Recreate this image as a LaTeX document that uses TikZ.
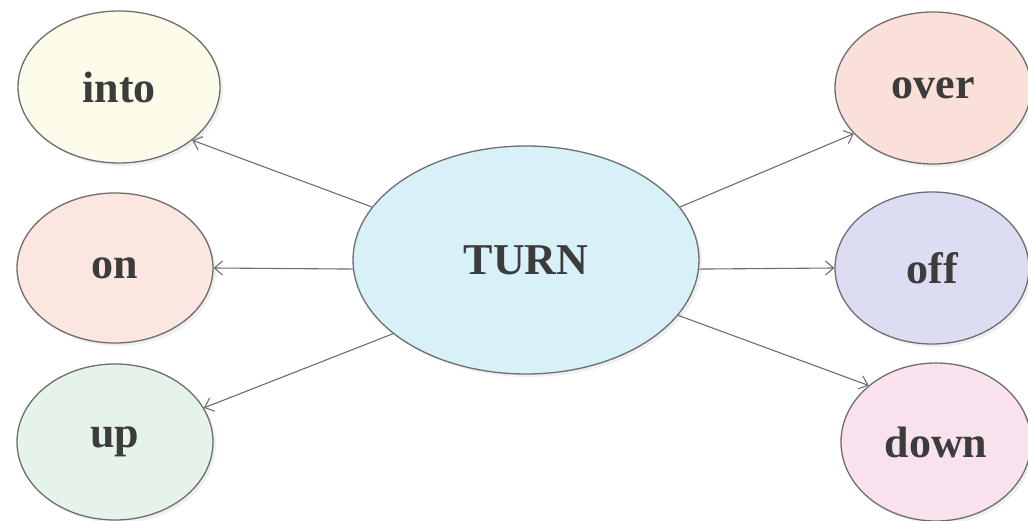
\documentclass[tikz,border=0pt]{standalone}
\usepackage{fontspec}
\setmainfont{Liberation Serif}
\usetikzlibrary{shapes.geometric,arrows.meta,shadows}
\definecolor{cinto}{HTML}{FDFBEA}
\definecolor{con}{HTML}{FCE6E0}
\definecolor{cup}{HTML}{E6F3E8}
\definecolor{cturn}{HTML}{D8F0F8}
\definecolor{cover}{HTML}{FBE0DA}
\definecolor{coff}{HTML}{DCDDF2}
\definecolor{cdown}{HTML}{F9E1EE}
\definecolor{edgec}{HTML}{6E6E6E}
\definecolor{txtc}{HTML}{3C3C3C}
\tikzset{
  bubble/.style={ellipse, draw=edgec, line width=1.3pt, inner sep=0pt,
    text=txtc, font=\fontsize{44}{48}\selectfont\bfseries,
    drop shadow={opacity=0.12, shadow xshift=3pt, shadow yshift=-3pt}},
  conn/.style={draw=edgec, line width=1.1pt, -{Straight Barb[length=8pt,width=14pt,line width=1.1pt]}}
}
\begin{document}
\begin{tikzpicture}[x=1pt,y=1pt]
\useasboundingbox (0,0) rectangle (1028,520);
\fill[white] (0,0) rectangle (1028,520);
\node[bubble, fill=cinto, minimum width=202pt, minimum height=152pt] (into) at (119,433) {into};
\node[bubble, fill=con, minimum width=196pt, minimum height=150pt] (on) at (115,252) {on};
\node[bubble, fill=cup, minimum width=196pt, minimum height=156pt] (up) at (115,78) {up};
\node[bubble, fill=cturn, minimum width=346pt, minimum height=228pt] (turn) at (526,260) {TURN};
\node[bubble, fill=cover, minimum width=196pt, minimum height=152pt] (over) at (933,432) {over};
\node[bubble, fill=coff, minimum width=194pt, minimum height=152pt] (off) at (932,252) {off};
\node[bubble, fill=cdown, minimum width=190pt, minimum height=158pt] (down) at (936,78) {down};
\draw[conn] (turn.161) -- (into.-36);
\draw[conn] (turn.183) -- (on.east);
\draw[conn] (turn.209) -- (up.21);
\draw[conn] (turn.19) -- (over.210);
\draw[conn] (turn.-3) -- (off.west);
\draw[conn] (turn.-20) -- (down.140);
\end{tikzpicture}
\end{document}
